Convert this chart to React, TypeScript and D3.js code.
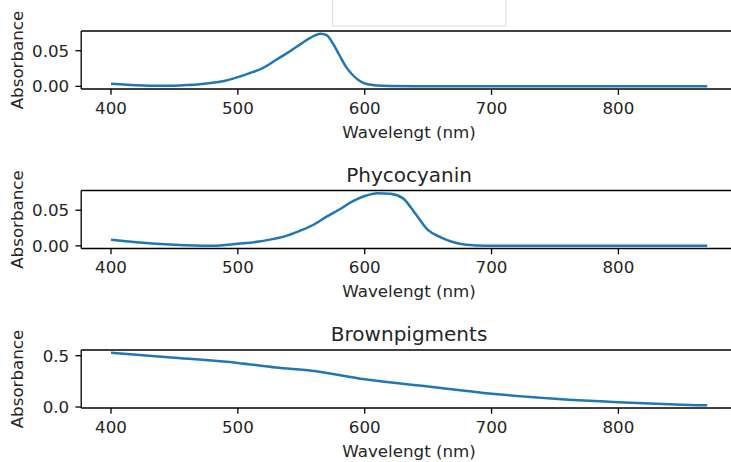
import * as d3 from 'd3'

// Panel 1 (untitled, title hidden behind the white box)
const wl1 = [400, 410, 420, 430, 440, 450, 460, 470, 480, 490, 500, 510, 520, 530, 540, 550, 555, 560, 565, 570, 575, 580, 585, 590, 595, 600, 610, 620, 640, 700, 800, 870]
const abs1 = [0.0035, 0.0025, 0.0016, 0.001, 0.0008, 0.001, 0.0018, 0.003, 0.005, 0.008, 0.013, 0.019, 0.026, 0.037, 0.048, 0.06, 0.066, 0.071, 0.074, 0.072, 0.06, 0.044, 0.028, 0.017, 0.009, 0.004, 0.0012, 0.0004, 0.0001, 0, 0, 0]

// Panel 2: Phycocyanin
const wl2 = [400, 420, 450, 480, 500, 520, 540, 550, 560, 570, 580, 590, 600, 610, 620, 630, 640, 650, 660, 670, 680, 690, 700, 800, 870]
const abs2 = [0.0085, 0.005, 0.0014, 0, 0.003, 0.007, 0.015, 0.022, 0.03, 0.041, 0.051, 0.062, 0.07, 0.074, 0.073, 0.067, 0.045, 0.022, 0.012, 0.005, 0.0015, 0.0005, 0, 0, 0]

// Panel 3: Brownpigments
const wl3 = [400, 450, 500, 530, 560, 600, 650, 700, 750, 800, 850, 870]
const abs3 = [0.53, 0.48, 0.43, 0.385, 0.35, 0.27, 0.2, 0.13, 0.08, 0.046, 0.023, 0.016]

const xTicks = [400, 500, 600, 700, 800]
const xLabel = 'Wavelengt (nm)'
const yLabel = 'Absorbance'

const panels = [
  { title: '', wl: wl1, abs: abs1, yTicks: [0, 0.05], fmt: '.2f' },
  { title: 'Phycocyanin', wl: wl2, abs: abs2, yTicks: [0, 0.05], fmt: '.2f' },
  { title: 'Brownpigments', wl: wl3, abs: abs3, yTicks: [0, 0.5], fmt: '.1f' },
]

const W = 731
const H = 462
const FONT = 'DejaVu Sans'
const TEXT = '#262626'
const LINE = '#1f77b4'

const left = 81.2
const right = 737
const tops = [31, 190.5, 350]
const ph = 58

function Panel({ p, top }) {
  const xMin = d3.min(p.wl)
  const xMax = d3.max(p.wl)
  const xPad = (xMax - xMin) * 0.05
  const x = d3.scaleLinear().domain([xMin - xPad, xMax + xPad]).range([left, right])

  const yMin = d3.min(p.abs)
  const yMax = d3.max(p.abs)
  const yPad = (yMax - yMin) * 0.05
  const y = d3.scaleLinear().domain([yMin - yPad, yMax + yPad]).range([top + ph, top])

  const pts = p.wl.map((w, i) => [w, p.abs[i]])
  const line = d3.line().x((d) => x(d[0])).y((d) => y(d[1])).curve(d3.curveMonotoneX)
  const fmt = d3.format(p.fmt)
  const bottom = top + ph

  return (
    <g>
      <path d={line(pts)} fill="none" stroke={LINE} strokeWidth={2.5} strokeLinejoin="round" />
      {/* spines */}
      <line x1={left} x2={right} y1={top} y2={top} stroke="#000" strokeWidth={1.3} />
      <line x1={left} x2={right} y1={bottom} y2={bottom} stroke="#000" strokeWidth={1.3} />
      <line x1={left} x2={left} y1={top} y2={bottom} stroke="#000" strokeWidth={1.3} />
      {/* x ticks */}
      {xTicks.map((t) => (
        <g key={t}>
          <line x1={x(t)} x2={x(t)} y1={bottom} y2={bottom + 5.8} stroke="#000" strokeWidth={1.3} />
          <text x={x(t)} y={bottom + 24.5} textAnchor="middle" fontSize={16.7} fill={TEXT}>{t}</text>
        </g>
      ))}
      {/* y ticks */}
      {p.yTicks.map((t) => (
        <g key={t}>
          <line x1={left - 5.8} x2={left} y1={y(t)} y2={y(t)} stroke="#000" strokeWidth={1.3} />
          <text x={left - 12} y={y(t)} dy="0.36em" textAnchor="end" fontSize={16.7} fill={TEXT}>{fmt(t)}</text>
        </g>
      ))}
      <text x={(left + right) / 2} y={bottom + 48.5} textAnchor="middle" fontSize={16.7} fill={TEXT}>{xLabel}</text>
      <text transform={`translate(23,${top + ph / 2}) rotate(-90)`} textAnchor="middle" fontSize={16.7} fill={TEXT}>{yLabel}</text>
      {p.title && (
        <text x={(left + right) / 2} y={top - 9} textAnchor="middle" fontSize={20} fill={TEXT}>{p.title}</text>
      )}
    </g>
  )
}

export default function App() {
  return (
    <svg width={W} height={H} style={{ position: 'absolute', left: 0, top: 0, background: '#fff' }} fontFamily={FONT}>
      <rect x={0} y={0} width={W} height={H} fill="#fff" />
      {panels.map((p, i) => (
        <Panel key={i} p={p} top={tops[i]} />
      ))}
      {/* white box covering the first title */}
      <rect x={332.5} y={-2} width={173.5} height={28} fill="#fff" stroke="#dcdcdc" strokeWidth={1} />
    </svg>
  )
}
